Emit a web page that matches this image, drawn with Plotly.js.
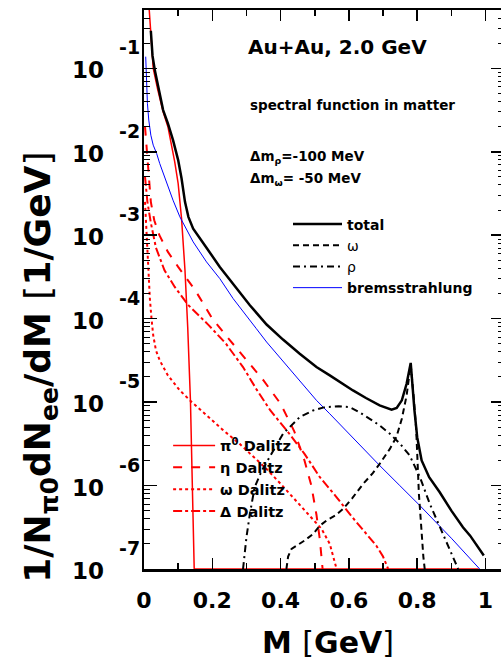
<!DOCTYPE html>
<html><head><meta charset="utf-8">
<script src="https://cdn.plot.ly/plotly-3.0.1.min.js"></script>
<style>html,body{margin:0;padding:0;overflow:hidden;background:#fff}#chart{width:506px;height:664px}</style>
</head><body><div id="chart"></div>
<script>
// ---- data (M in GeV, 1/N dN/dM in 1/GeV) ----
const massTotal = [0.020,0.025,0.032,0.045,0.056,0.070,0.085,0.100,0.110,0.120,0.130,0.144,0.160,0.183,0.222,0.261,0.310,0.359,0.407,0.456,0.505,0.544,0.573,0.612,0.650,0.690,0.725,0.740,0.755,0.769,0.781,0.786,0.792,0.800,0.813,0.835,0.866,0.900,0.934,0.955,0.974,0.995];
const total = [2.82e-1,1.41e-1,9.33e-2,5.25e-2,3.16e-2,2.19e-2,1.38e-2,7.94e-3,4.79e-3,2.51e-3,1.66e-3,1.20e-3,9.55e-4,7.08e-4,4.17e-4,2.63e-4,1.45e-4,8.51e-5,5.62e-5,3.80e-5,2.63e-5,2.09e-5,1.74e-5,1.38e-5,1.12e-5,9.12e-6,8.13e-6,8.51e-6,1.05e-5,1.66e-5,2.95e-5,1.58e-5,7.94e-6,3.80e-6,2.00e-6,1.26e-6,8.32e-7,5.01e-7,3.16e-7,2.51e-7,1.91e-7,1.45e-7];

const massOmega = [0.417,0.422,0.432,0.447,0.470,0.495,0.515,0.534,0.560,0.583,0.610,0.642,0.670,0.690,0.720,0.739,0.755,0.769,0.781,0.790,0.797,0.805,0.812,0.818,0.822];
const omega = [1.00e-7,1.41e-7,1.74e-7,1.91e-7,2.19e-7,2.63e-7,3.31e-7,3.80e-7,4.37e-7,5.25e-7,7.08e-7,1.05e-6,1.41e-6,1.82e-6,2.75e-6,3.80e-6,6.31e-6,1.20e-5,2.82e-5,1.12e-5,4.79e-6,7.94e-7,2.82e-7,1.41e-7,1.00e-7];

const massRho = [0.290,0.295,0.300,0.310,0.324,0.345,0.368,0.407,0.456,0.495,0.530,0.570,0.603,0.630,0.661,0.690,0.720,0.750,0.778,0.795,0.808,0.837,0.876,0.900,0.915,0.920];
const rho = [1.00e-7,1.58e-7,2.40e-7,4.57e-7,9.55e-7,1.51e-6,2.19e-6,4.17e-6,6.61e-6,7.94e-6,8.71e-6,8.91e-6,8.71e-6,7.59e-6,6.31e-6,5.25e-6,4.17e-6,3.16e-6,2.29e-6,1.66e-6,1.26e-6,6.03e-7,2.63e-7,1.58e-7,1.15e-7,1.00e-7];

const massBrems = [0.005,0.007,0.010,0.014,0.020,0.027,0.037,0.046,0.066,0.085,0.105,0.144,0.183,0.222,0.261,0.300,0.329,0.359,0.398,0.456,0.505,0.544,0.600,0.690,0.749,0.808,0.900,0.983];
const brems = [1.38e-1,6.92e-2,3.80e-2,2.40e-2,1.58e-2,1.20e-2,9.55e-3,7.24e-3,4.17e-3,2.63e-3,1.66e-3,8.32e-4,4.79e-4,3.02e-4,1.74e-4,1.10e-4,7.59e-5,5.25e-5,3.39e-5,1.82e-5,1.05e-5,7.24e-6,4.17e-6,1.74e-6,1.00e-6,5.75e-7,2.34e-7,1.00e-7];

const massPi0 = [0.012,0.015,0.020,0.027,0.040,0.056,0.070,0.0805,0.090,0.100,0.110,0.120,0.128,0.136,0.142,0.147,0.170,0.980];
const pi0Dalitz = [7.94e-1,4.90e-1,2.82e-1,1.00e-1,5.62e-2,3.02e-2,2.00e-2,1.26e-2,7.59e-3,4.17e-3,1.58e-3,3.80e-4,7.94e-5,1.05e-5,1.26e-6,1.00e-7,1.00e-7,1.00e-7];

const massEta = [0.003,0.007,0.012,0.020,0.030,0.045,0.070,0.100,0.150,0.200,0.250,0.300,0.350,0.400,0.440,0.470,0.490,0.505,0.515,0.523];
const etaDalitz = [2.00e-2,1.26e-2,6.03e-3,2.51e-3,1.51e-3,1.00e-3,6.31e-4,4.17e-4,2.19e-4,1.00e-4,5.62e-5,3.16e-5,1.82e-5,9.55e-6,4.47e-6,2.00e-6,1.00e-6,4.47e-7,2.24e-7,1.00e-7];

const massOmegaDal = [0.003,0.006,0.010,0.014,0.017,0.022,0.027,0.035,0.046,0.070,0.105,0.140,0.183,0.230,0.280,0.320,0.359,0.400,0.427,0.460,0.495,0.520,0.544,0.555,0.564];
const omegaDalitz = [2.51e-3,1.41e-3,6.31e-4,3.16e-4,1.78e-4,1.00e-4,6.31e-5,4.17e-5,3.16e-5,2.09e-5,1.38e-5,1.00e-5,6.92e-6,4.68e-6,3.16e-6,2.24e-6,1.58e-6,1.05e-6,7.94e-7,5.75e-7,3.98e-7,3.02e-7,2.00e-7,1.41e-7,1.00e-7];

const massDelta = [0.003,0.010,0.020,0.035,0.060,0.090,0.130,0.190,0.240,0.290,0.330,0.370,0.420,0.470,0.515,0.560,0.610,0.650,0.680,0.700,0.715];
const deltaDalitz = [5.01e-3,2.51e-3,1.41e-3,7.08e-4,3.80e-4,2.40e-4,1.45e-4,8.32e-5,5.01e-5,2.63e-5,1.41e-5,7.94e-6,4.47e-6,2.40e-6,1.26e-6,7.59e-7,4.17e-7,2.63e-7,1.91e-7,1.41e-7,1.00e-7];

const yDecadeExponents = [-7,-6,-5,-4,-3,-2,-1];

// ---- drawing ----
const FONT = 'DejaVu Sans';
const traces = [
  {x: massPi0, y: pi0Dalitz, name: 'π<sup>0</sup> Dalitz', legend: 'legend2', mode: 'lines', line: {color: '#ff0000', width: 1.5}},
  {x: massEta, y: etaDalitz, name: 'η Dalitz', legend: 'legend2', mode: 'lines', line: {color: '#ff0000', width: 2, dash: 'dash'}},
  {x: massOmegaDal, y: omegaDalitz, name: 'ω Dalitz', legend: 'legend2', mode: 'lines', line: {color: '#ff0000', width: 2, dash: 'dot'}},
  {x: massDelta, y: deltaDalitz, name: 'Δ Dalitz', legend: 'legend2', mode: 'lines', line: {color: '#ff0000', width: 2, dash: 'dashdot'}},
  {x: massBrems, y: brems, name: 'bremsstrahlung', legend: 'legend', mode: 'lines', line: {color: '#0000ff', width: 1}},
  {x: massRho, y: rho, name: '<span style="font-weight:normal">ρ</span>', legend: 'legend', mode: 'lines', line: {color: '#000000', width: 2, dash: '7px,4px,2px,4px'}},
  {x: massOmega, y: omega, name: '<span style="font-weight:normal">ω</span>', legend: 'legend', mode: 'lines', line: {color: '#000000', width: 2, dash: '6px,4px'}},
  {x: massTotal, y: total, name: 'total', legend: 'legend', mode: 'lines', line: {color: '#000000', width: 2.5}}
];

const annotations = [];
yDecadeExponents.forEach(k => {
  annotations.push({xref: 'paper', yref: 'y', x: -0.106, y: k, xanchor: 'right', yanchor: 'middle', yshift: -2,
    text: '10', showarrow: false, font: {family: FONT, size: 23, weight: 'bold', color: '#000'}});
  annotations.push({xref: 'paper', yref: 'y', x: -0.075, y: k, xanchor: 'left', yanchor: 'middle', yshift: 21,
    text: String(k), showarrow: false, font: {family: FONT, size: 19, weight: 'bold', color: '#000'}});
});
const txt = (text, x, y, size, extra) => Object.assign({xref: 'paper', yref: 'paper', x: x, y: y, xanchor: 'left', yanchor: 'middle',
  text: text, showarrow: false, font: {family: FONT, size: size, weight: 'bold', color: '#000'}}, extra || {});
annotations.push(txt('Au+Au, 2.0 GeV', 0.2833, 0.9343, 20));
annotations.push(txt('spectral function in matter', 0.2889, 0.830, 13.5));
annotations.push(txt('Δm<sub>ρ</sub>=-100 MeV', 0.2889, 0.737, 13.5));
annotations.push(txt('Δm<sub>ω</sub>= -50 MeV', 0.2889, 0.698, 13.5));
annotations.push(txt('1/N<sub>π0</sub>dN<sub>ee</sub>/dM <span style="font-weight:normal">[</span>1/GeV<span style="font-weight:normal">]</span>',
  -0.286, 0.36, 36, {xanchor: 'center', textangle: -90}));
annotations.push(txt('M <span style="font-weight:normal">[</span>GeV<span style="font-weight:normal">]</span>',
  0.511, -0.1306, 30, {xanchor: 'center'}));

const layout = {
  width: 506, height: 664,
  margin: {l: 144, r: 2, t: 10, b: 95},
  paper_bgcolor: '#ffffff', plot_bgcolor: '#ffffff',
  font: {family: FONT, color: '#000', weight: 'bold'},
  showlegend: true,
  xaxis: {
    range: [0, 1.0542], showgrid: false, zeroline: false,
    showline: true, linecolor: '#000', linewidth: 2.5, mirror: 'allticks',
    ticks: 'inside', ticklen: 11, tickwidth: 1.5, tickcolor: '#000',
    tick0: 0, dtick: 0.2, ticklabelstandoff: 10,
    tickfont: {family: FONT, size: 22, weight: 'bold', color: '#000'},
    minor: {ticks: 'inside', ticklen: 6, tickwidth: 1.5, tickcolor: '#000', dtick: 0.1, showgrid: false}
  },
  yaxis: {
    type: 'log', range: [-7, -0.301], showgrid: false, zeroline: false,
    showline: true, linecolor: '#000', linewidth: 2.5, mirror: 'allticks',
    ticks: 'inside', ticklen: 13, tickwidth: 1.5, tickcolor: '#000',
    dtick: 1, showticklabels: false,
    minor: {ticks: 'inside', ticklen: 6, tickwidth: 1, tickcolor: '#000', dtick: 'D1', showgrid: false}
  },
  legend: {
    x: 0.40, y: 0.645, xanchor: 'left', yanchor: 'top', xref: 'paper', yref: 'paper',
    bgcolor: 'rgba(0,0,0,0)', borderwidth: 0, traceorder: 'reversed', itemwidth: 49,
    font: {family: FONT, size: 14, weight: 'bold', color: '#000'}
  },
  legend2: {
    x: 0.067, y: 0.2494, xanchor: 'left', yanchor: 'top', xref: 'paper', yref: 'paper',
    bgcolor: 'rgba(0,0,0,0)', borderwidth: 0, traceorder: 'normal', itemwidth: 42,
    font: {family: FONT, size: 14.5, weight: 'bold', color: '#000'}
  },
  annotations: annotations
};

Plotly.newPlot('chart', traces, layout, {displayModeBar: false, staticPlot: true});
</script>
</body></html>
